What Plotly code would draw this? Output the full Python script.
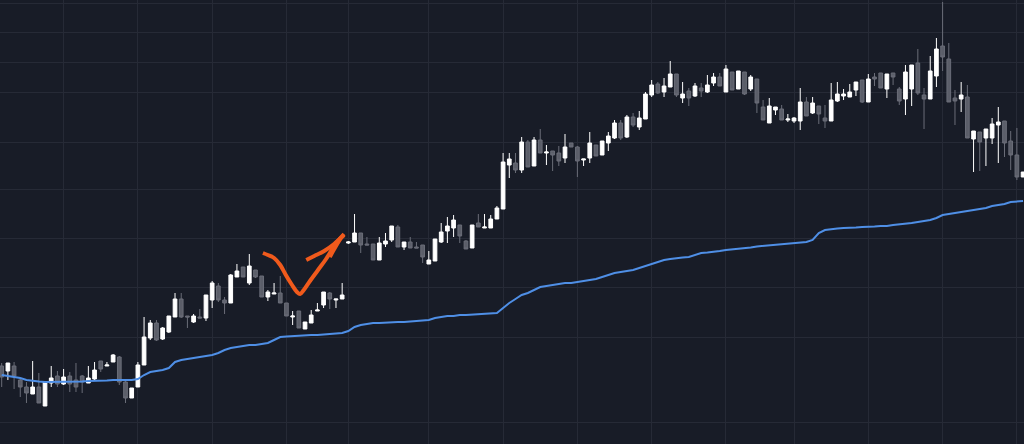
import plotly.graph_objects as go

BG = "#181c27"
GRID = "#262a36"
UP = "#ffffff"
DOWN_FILL = "#5b5e69"
DOWN_LINE = "#6a6d78"
MA_COLOR = "#4f8fe6"
PEN = "#f05a1c"

# OHLC per session (index 0..165)
opens = [78, 73, 78, 64, 57, 50, 57, 38, 61, 68,
         60, 68, 64, 68, 61, 65, 83, 78, 82, 87,
         62, 46, 57, 79, 106, 121, 105, 112, 127, 145,
         128, 122, 127, 126, 144, 158, 144, 141, 167, 177,
         161, 174, 168, 147, 150, 151, 141, 127, 133, 115,
         121, 133, 139, 151, 144, 145, 201, 202, 211, 200,
         200, 184, 200, 204, 217, 197, 202, 197, 199, 180,
         183, 202, 213, 216, 219, 203, 196, 221, 216, 216,
         225, 235, 279, 281, 274, 302, 278, 304, 291, 293,
         291, 286, 301, 297, 284, 286, 299, 289, 301, 306,
         321, 307, 327, 317, 325, 349, 360, 352, 357, 370,
         346, 353, 348, 356, 352, 361, 367, 352, 372, 355,
         372, 355, 365, 337, 321, 334, 335, 324, 323, 323,
         342, 331, 338, 326, 323, 343, 348, 347, 354, 364,
         342, 367, 371, 355, 371, 355, 345, 355, 381, 349,
         345, 368, 398, 385, 346, 345, 347, 305, 312, 306,
         306, 319, 323, 303, 289, 267]

highs = [81, 81, 82, 66, 62, 83, 71, 62, 78, 73,
         75, 72, 81, 69, 78, 82, 83, 82, 90, 88,
         64, 56, 82, 127, 124, 124, 117, 128, 151, 151,
         128, 130, 135, 149, 163, 161, 147, 170, 180, 177,
         190, 174, 168, 154, 161, 168, 141, 133, 133, 122,
         134, 141, 152, 152, 145, 161, 203, 230, 211, 207,
         200, 207, 211, 218, 219, 202, 207, 202, 199, 193,
         205, 221, 227, 229, 219, 204, 219, 230, 230, 229,
         238, 291, 291, 291, 307, 304, 307, 315, 299, 293,
         298, 310, 301, 298, 285, 312, 299, 303, 312, 324,
         324, 329, 331, 333, 352, 364, 362, 366, 383, 370,
         362, 356, 361, 361, 369, 371, 371, 379, 372, 373,
         372, 369, 365, 344, 346, 337, 339, 330, 327, 356,
         347, 347, 338, 339, 361, 362, 355, 360, 362, 364,
         370, 371, 371, 370, 371, 357, 379, 379, 395, 356,
         388, 406, 442, 401, 354, 362, 359, 313, 312, 315,
         326, 337, 323, 313, 316, 272]

lows = [57, 64, 55, 47, 41, 50, 41, 38, 57, 57,
        59, 52, 52, 51, 61, 64, 72, 78, 82, 59,
        41, 46, 57, 79, 104, 103, 104, 111, 127, 126,
        116, 121, 126, 123, 136, 142, 130, 141, 167, 167,
        159, 166, 147, 143, 150, 141, 128, 119, 116, 115,
        121, 133, 136, 135, 136, 145, 200, 202, 191, 199,
        184, 184, 197, 202, 197, 194, 196, 196, 181, 180,
        183, 201, 201, 207, 201, 195, 196, 217, 216, 216,
        225, 235, 266, 271, 271, 277, 278, 291, 279, 273,
        278, 281, 297, 267, 278, 281, 288, 289, 293, 305,
        304, 306, 317, 314, 325, 347, 350, 347, 357, 347,
        341, 338, 347, 347, 351, 358, 358, 352, 354, 355,
        349, 353, 331, 324, 321, 329, 324, 322, 321, 314,
        328, 330, 320, 316, 323, 342, 344, 347, 348, 341,
        342, 358, 356, 346, 359, 339, 329, 338, 349, 315,
        345, 357, 373, 342, 319, 332, 306, 272, 273, 278,
        300, 281, 287, 274, 264, 267]

closes = [67, 81, 68, 57, 51, 57, 41, 62, 66, 60,
          67, 60, 57, 62, 66, 74, 75, 79, 89, 62,
          46, 56, 79, 107, 121, 104, 116, 128, 145, 127,
          127, 128, 126, 149, 161, 144, 141, 169, 173, 167,
          178, 167, 147, 152, 151, 141, 128, 128, 116, 122,
          129, 134, 152, 145, 145, 149, 202, 211, 199, 199,
          184, 201, 203, 218, 197, 202, 196, 196, 187, 184,
          205, 212, 218, 224, 208, 195, 219, 217, 217, 225,
          236, 282, 285, 274, 302, 277, 304, 291, 292, 289,
          283, 297, 297, 283, 285, 301, 288, 303, 308, 321,
          306, 327, 319, 326, 350, 359, 351, 358, 370, 349,
          350, 346, 358, 353, 359, 367, 358, 375, 354, 373,
          350, 367, 341, 324, 338, 337, 324, 325, 326, 342,
          328, 341, 330, 323, 344, 350, 350, 352, 362, 342,
          365, 365, 356, 370, 367, 343, 372, 379, 351, 345,
          373, 395, 387, 342, 343, 349, 306, 313, 302, 315,
          320, 322, 301, 289, 267, 272]

# slow moving average (blue line)
ma = [69, 68, 67, 66, 64, 63, 62.5, 62, 62, 62,
      62, 62, 62, 62.5, 63, 63, 63, 63.5, 64, 64,
      64, 64, 65, 69, 72, 73, 74, 76, 82, 84,
      85, 86, 87, 88, 89, 91, 94, 96, 97, 98,
      99, 99, 100, 101, 104, 107, 107.5, 108, 108, 108.5,
      109, 109, 109.5, 110, 110, 111, 113, 117, 119, 120,
      121, 121, 121.5, 122, 122, 122, 122.5, 123, 123, 124,
      126, 127, 128, 128, 129, 129, 129.5, 130, 130, 130.5,
      131, 136, 141, 145, 149, 151, 154, 157, 158, 159,
      160, 161, 161, 162, 163, 164, 165, 167, 169, 171,
      172, 173, 174, 176, 178, 180, 182, 184, 185, 186,
      186.5, 187, 189, 191, 191.5, 192, 193, 194, 194.5, 195.5,
      196, 196.5, 197.5, 198, 198.5, 199, 199.5, 200, 200.5, 201,
      202, 204, 211, 214, 215, 215.5, 216, 216, 216.5, 217,
      217, 217.5, 218, 218, 219, 219.5, 220, 221, 222, 223,
      224, 226, 229, 230, 231, 232, 233, 234, 235, 236,
      238, 239, 240, 242, 242.5, 243]

sessions = list(range(len(opens)))

# hand-drawn "check + arrow" markup
pen_x = [42.2, 43.0, 44.0, 45.0, 45.9, 46.9, 47.7, 48.2, 48.8, 49.8, 51.1, 52.4, 53.5, 54.3, 55.3]
pen_y = [191, 189, 186, 179, 169, 159, 152, 150, 154, 163, 174, 185, 196, 203, 210]
barb_x = [49.2, 50.5, 52.1, 53.7, 55.3]
barb_y = [184, 188, 193, 200, 209]
barb2_x = [53.0, 54.0, 54.8]
barb2_y = [187, 198, 206]

grid_x = [10, 22, 34, 46, 56, 69, 81, 93, 105, 117, 128, 140, 152, 164]
grid_y = [22, 107, 157, 206, 255, 302, 352, 382, 412, 441]

fig = go.Figure()

fig.add_trace(go.Scatter(
    x=sessions, y=ma, mode="lines",
    line=dict(color=MA_COLOR, width=2),
    hoverinfo="skip",
))

fig.add_trace(go.Candlestick(
    x=sessions, open=opens, high=highs, low=lows, close=closes,
    increasing=dict(fillcolor=UP, line=dict(color=UP, width=1)),
    decreasing=dict(fillcolor=DOWN_FILL, line=dict(color=DOWN_LINE, width=1)),
    whiskerwidth=0,
))

for xs, ys in [(pen_x, pen_y), (barb_x, barb_y), (barb2_x, barb2_y)]:
    fig.add_trace(go.Scatter(
        x=xs, y=ys, mode="lines",
        line=dict(color=PEN, width=4, shape="spline"),
        hoverinfo="skip",
    ))

fig.update_layout(
    width=1024, height=444,
    paper_bgcolor=BG, plot_bgcolor=BG,
    margin=dict(l=0, r=0, t=0, b=0),
    showlegend=False,
    boxgap=0.15,
    xaxis=dict(
        range=[-0.275, 165.15], tickvals=grid_x, showticklabels=False,
        showgrid=True, gridcolor=GRID, gridwidth=1, zeroline=False,
        rangeslider=dict(visible=False), fixedrange=True,
    ),
    yaxis=dict(
        range=[0, 444], tickvals=grid_y, showticklabels=False,
        showgrid=True, gridcolor=GRID, gridwidth=1, zeroline=False,
        fixedrange=True,
    ),
)

fig.write_html(
    "out.html",
    config={"displayModeBar": False},
    post_script="document.body.style.margin='0';",
)
